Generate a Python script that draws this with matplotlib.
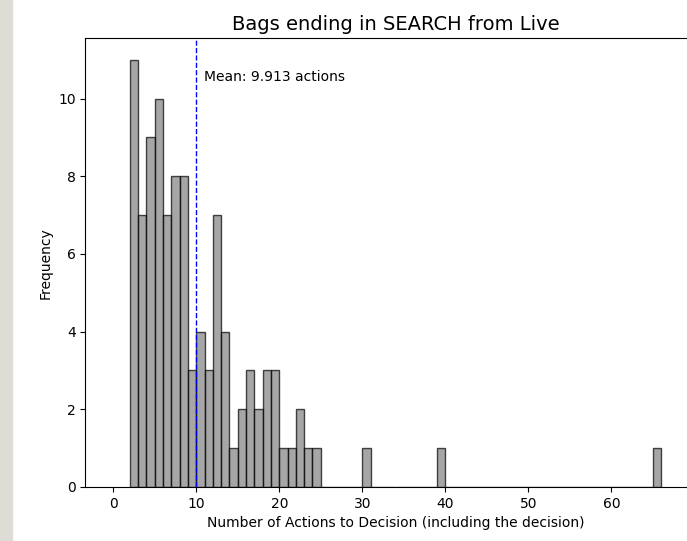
'''
Histogram of actions-to-decision for bags ending in SEARCH (Live).
'''
import matplotlib
matplotlib.use('Agg')
import matplotlib.pyplot as plt
import matplotlib.patches as mpatches
import numpy as np

# bin left edges (width 1) and counts
bin_left = [2, 3, 4, 5, 6, 7, 8, 9, 10, 11, 12, 13, 14, 15, 16, 17, 18, 19,
            20, 21, 22, 23, 24, 30, 39, 65]
counts = [11, 7, 9, 10, 7, 8, 8, 3, 4, 3, 7, 4, 1, 2, 3, 2, 3, 3,
          1, 1, 2, 1, 1, 1, 1, 1]
mean_actions = 9.913

edges = np.arange(2, 67)

fig = plt.figure(figsize=(6.87, 5.41), dpi=100)
# grey strip at the left edge of the screenshot
fig.patches.append(mpatches.Rectangle((0, 0), 12/687., 1, transform=fig.transFigure,
                                      color='#dfdcd5', zorder=-1))

# axes box runs past the right edge of the picture (cropped screenshot)
ax = fig.add_axes([85.3/687, 1-487/541., (705.7-85.3)/687, (487-38.3)/541.])
ax.hist(np.array(bin_left)+0.5, bins=edges, weights=counts,
        color='gray', edgecolor='black', alpha=0.7)
ax.axvline(mean_actions, color='blue', linestyle='--', linewidth=1)
ax.text(mean_actions+1, max(counts)*0.95, 'Mean: %.3f actions' % mean_actions,
        fontsize=10)

ax.set_xlim(-3.37, 71.37)
ax.set_xticks([0, 10, 20, 30, 40, 50, 60])
ax.set_ylim(0, 11.55)
ax.set_title('Bags ending in SEARCH from Live', fontsize=14)
ax.set_xlabel('Number of Actions to Decision (including the decision)', fontsize=10)
ax.set_ylabel('Frequency', fontsize=10)
ax.spines['right'].set_visible(False)

plt.savefig('out.png', dpi=100)
